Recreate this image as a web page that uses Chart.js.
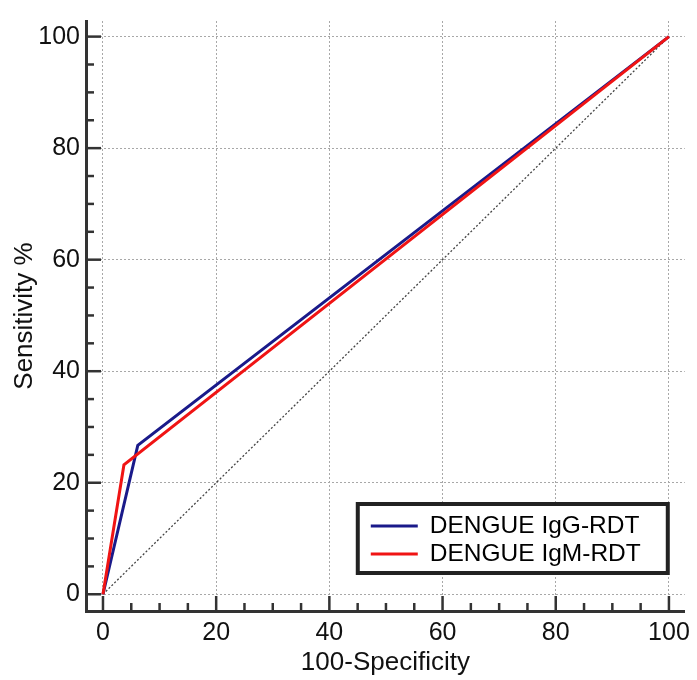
<!DOCTYPE html>
<html>
<head>
<meta charset="utf-8">
<script src="https://cdn.jsdelivr.net/npm/chart.js@4/dist/chart.umd.min.js"></script>
<style>
  body { margin: 0; background: #fff; }
  #wrap { width: 697px; height: 680px; }
</style>
</head>
<body>
<div id="wrap"><canvas id="roc" width="697" height="680"></canvas></div>
<script>
// ROC curves (100-Specificity vs Sensitivity)
const igg_x = [0, 6.15, 100];
const igg_y = [0, 26.7, 100];
const igm_x = [0, 3.7, 100];
const igm_y = [0, 23.2, 100];
const diag_x = [0, 100];
const diag_y = [0, 100];
const tickValues = [0, 5, 10, 15, 20, 25, 30, 35, 40, 45, 50, 55, 60, 65, 70, 75, 80, 85, 90, 95, 100];
const seriesNames = ['DENGUE IgG-RDT', 'DENGUE IgM-RDT'];

const toPoints = (xs, ys) => xs.map((x, i) => ({ x: x, y: ys[i] }));

Chart.defaults.font.family = 'Arial, "Liberation Sans", sans-serif';
Chart.defaults.color = '#111';

// tick marks pointing into the plot, long at every 20, short at every 5
const innerTicks = {
  id: 'innerTicks',
  beforeDatasetsDraw(chart) {
    const c = chart.ctx;
    const xs = chart.scales.x, ys = chart.scales.y;
    const area = chart.chartArea;
    c.save();
    c.strokeStyle = '#333';
    c.lineWidth = 2.5;
    xs.ticks.forEach(t => {
      const px = xs.getPixelForValue(t.value);
      const len = t.value % 20 === 0 ? 15 : 8;
      c.beginPath();
      c.moveTo(px, area.bottom);
      c.lineTo(px, area.bottom - len);
      c.stroke();
    });
    ys.ticks.forEach(t => {
      const py = ys.getPixelForValue(t.value);
      const len = t.value % 20 === 0 ? 15 : 8;
      c.beginPath();
      c.moveTo(area.left, py);
      c.lineTo(area.left + len, py);
      c.stroke();
    });
    c.restore();
  }
};

// boxed legend inside the lower right of the plot
const boxLegend = {
  id: 'boxLegend',
  afterDraw(chart) {
    const c = chart.ctx;
    const area = chart.chartArea;
    const w = 310, h = 69;
    const x0 = area.right - 17 - w, y0 = area.bottom - 38 - h;
    c.save();
    c.fillStyle = '#fff';
    c.fillRect(x0, y0, w, h);
    c.strokeStyle = '#222';
    c.lineWidth = 4;
    c.strokeRect(x0, y0, w, h);
    c.font = '24.5px Arial, "Liberation Sans", sans-serif';
    c.textBaseline = 'middle';
    c.fillStyle = '#000';
    seriesNames.forEach((name, i) => {
      const ds = chart.data.datasets[i];
      const yy = y0 + 22 + i * 28;
      c.strokeStyle = ds.borderColor;
      c.lineWidth = 3;
      c.beginPath();
      c.moveTo(x0 + 13, yy);
      c.lineTo(x0 + 60, yy);
      c.stroke();
      c.fillText(name, x0 + 72, yy);
    });
    c.restore();
  }
};

const setTicks = scale => { scale.ticks = tickValues.map(v => ({ value: v })); };
const gridColor = ctx => (ctx.tick && ctx.tick.value % 20 === 0) ? '#a8a8a8' : 'rgba(0,0,0,0)';

new Chart(document.getElementById('roc'), {
  type: 'scatter',
  data: {
    datasets: [
      {
        label: seriesNames[0],
        data: toPoints(igg_x, igg_y),
        showLine: true,
        borderColor: '#1a1a8a',
        borderWidth: 3,
        pointRadius: 0,
        order: 2
      },
      {
        label: seriesNames[1],
        data: toPoints(igm_x, igm_y),
        showLine: true,
        borderColor: '#f01414',
        borderWidth: 3,
        pointRadius: 0,
        order: 1
      },
      {
        label: 'reference',
        data: toPoints(diag_x, diag_y),
        showLine: true,
        borderColor: '#444',
        borderWidth: 1.3,
        borderDash: [2, 2],
        pointRadius: 0,
        order: 3
      }
    ]
  },
  options: {
    responsive: false,
    animation: false,
    layout: { padding: { top: 9, right: 8, left: 0, bottom: 0 } },
    plugins: {
      legend: { display: false },
      tooltip: { enabled: false }
    },
    scales: {
      x: {
        type: 'linear',
        min: -3,
        max: 102.8,
        afterBuildTicks: setTicks,
        afterFit: s => { s.height = 69; },
        grid: { color: gridColor, lineWidth: 1, drawTicks: false },
        border: { display: true, color: '#333', width: 3, dash: [2, 2] },
        ticks: {
          font: { size: 25 },
          padding: 7,
          maxRotation: 0,
          autoSkip: false,
          callback: v => v % 20 === 0 ? v : ''
        },
        title: { display: true, text: '100-Specificity', font: { size: 26 }, padding: { top: 0, bottom: 2 } }
      },
      y: {
        type: 'linear',
        min: -3,
        max: 102.8,
        afterBuildTicks: setTicks,
        afterFit: s => { s.width = 86; },
        grid: { color: gridColor, lineWidth: 1, drawTicks: false },
        border: { display: true, color: '#333', width: 3, dash: [2, 2] },
        ticks: {
          font: { size: 25 },
          padding: 6,
          autoSkip: false,
          callback: v => v % 20 === 0 ? v : ''
        },
        title: { display: true, text: 'Sensitivity %', font: { size: 26 }, padding: { top: 9, bottom: 0 } }
      }
    }
  },
  plugins: [innerTicks, boxLegend]
});
</script>
</body>
</html>
